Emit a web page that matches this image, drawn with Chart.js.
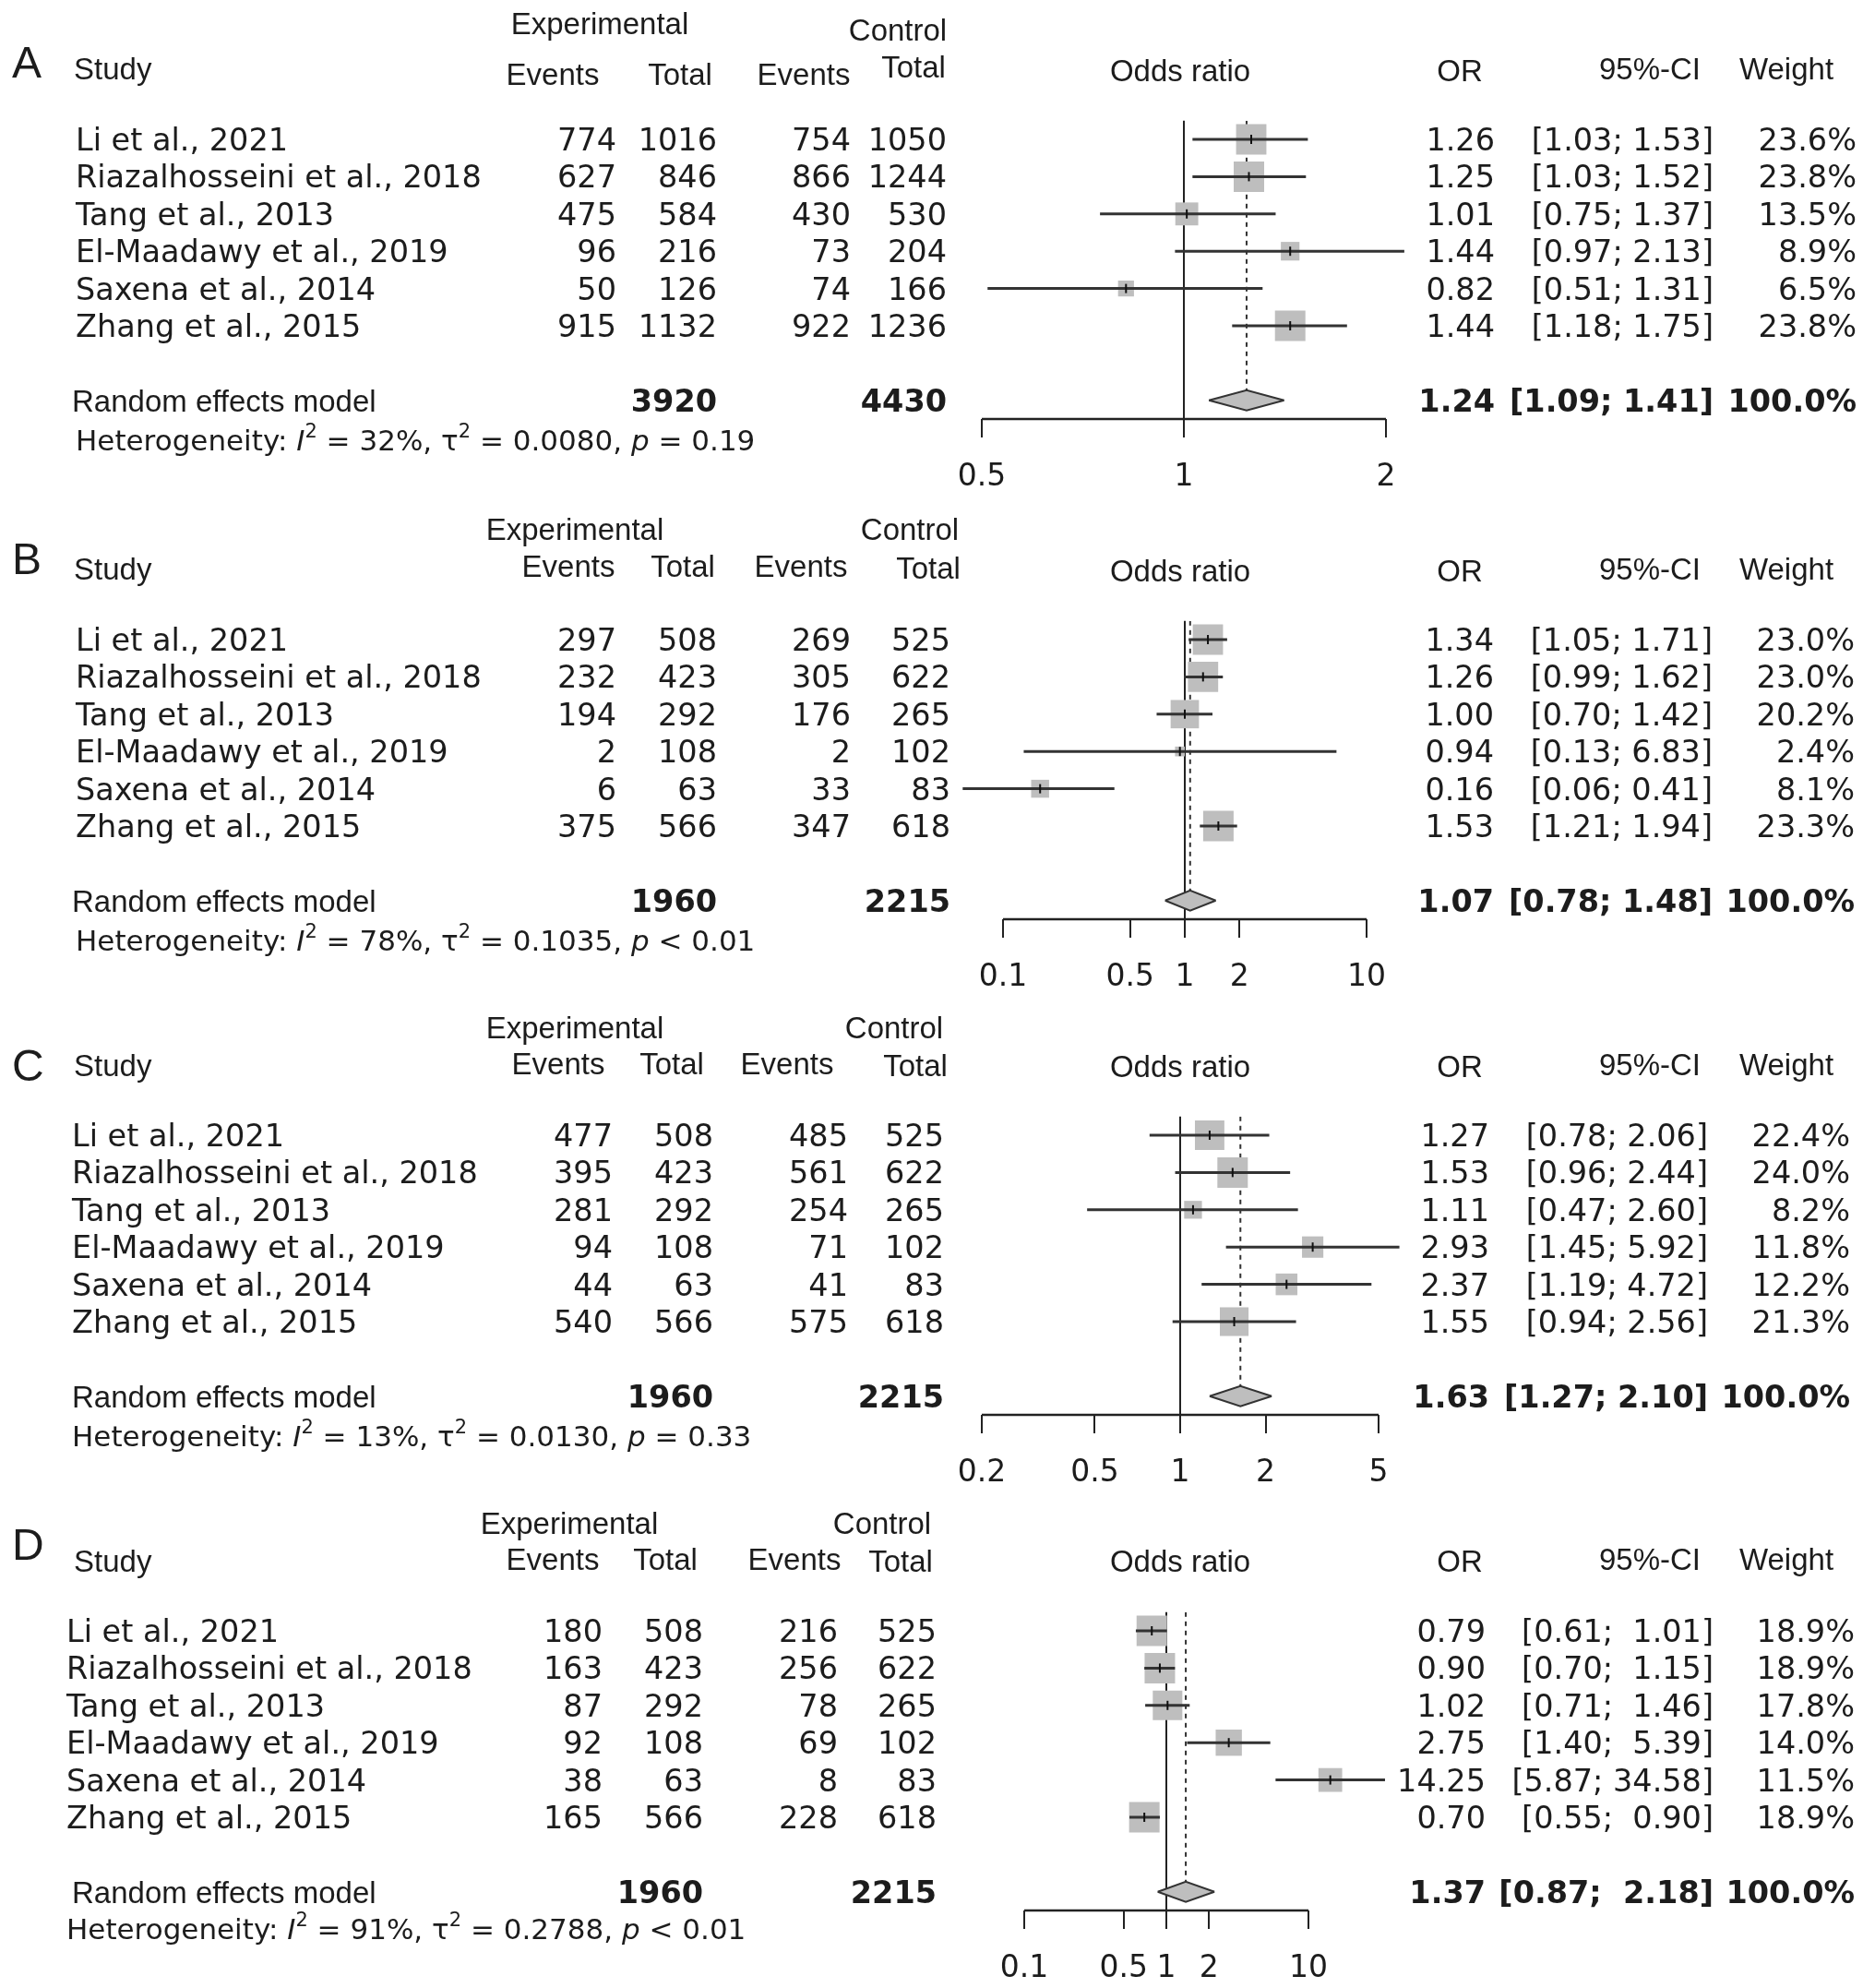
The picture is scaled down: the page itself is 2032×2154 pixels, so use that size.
<!DOCTYPE html>
<html>
<head>
<meta charset="utf-8">
<script src="https://cdn.jsdelivr.net/npm/chart.js@4.4.1/dist/chart.umd.min.js"></script>
<style>
  html, body { margin: 0; padding: 0; background: #fff; }
  canvas { display: block; }
</style>
</head>
<body>
<canvas id="panel0"></canvas>
<canvas id="panel1"></canvas>
<canvas id="panel2"></canvas>
<canvas id="panel3"></canvas>
<script>
// ---- data (panels A, B, C, D) ----
const panelLetters = ['A', 'B', 'C', 'D'];
const studies = ['Li et al., 2021', 'Riazalhosseini et al., 2018', 'Tang et al., 2013',
                 'El-Maadawy et al., 2019', 'Saxena et al., 2014', 'Zhang et al., 2015'];

const expEvents = [[774, 627, 475, 96, 50, 915], [297, 232, 194, 2, 6, 375],
                   [477, 395, 281, 94, 44, 540], [180, 163, 87, 92, 38, 165]];
const expTotal = [[1016, 846, 584, 216, 126, 1132], [508, 423, 292, 108, 63, 566],
                  [508, 423, 292, 108, 63, 566], [508, 423, 292, 108, 63, 566]];
const ctrlEvents = [[754, 866, 430, 73, 74, 922], [269, 305, 176, 2, 33, 347],
                    [485, 561, 254, 71, 41, 575], [216, 256, 78, 69, 8, 228]];
const ctrlTotal = [[1050, 1244, 530, 204, 166, 1236], [525, 622, 265, 102, 83, 618],
                   [525, 622, 265, 102, 83, 618], [525, 622, 265, 102, 83, 618]];

const oddsRatio = [[1.26, 1.25, 1.01, 1.44, 0.82, 1.44], [1.34, 1.26, 1.00, 0.94, 0.16, 1.53],
                   [1.27, 1.53, 1.11, 2.93, 2.37, 1.55], [0.79, 0.90, 1.02, 2.75, 14.25, 0.70]];
const ciLow = [[1.03, 1.03, 0.75, 0.97, 0.51, 1.18], [1.05, 0.99, 0.70, 0.13, 0.06, 1.21],
               [0.78, 0.96, 0.47, 1.45, 1.19, 0.94], [0.61, 0.70, 0.71, 1.40, 5.87, 0.55]];
const ciHigh = [[1.53, 1.52, 1.37, 2.13, 1.31, 1.75], [1.71, 1.62, 1.42, 6.83, 0.41, 1.94],
                [2.06, 2.44, 2.60, 5.92, 4.72, 2.56], [1.01, 1.15, 1.46, 5.39, 34.58, 0.90]];
const weights = [[23.6, 23.8, 13.5, 8.9, 6.5, 23.8], [23.0, 23.0, 20.2, 2.4, 8.1, 23.3],
                 [22.4, 24.0, 8.2, 11.8, 12.2, 21.3], [18.9, 18.9, 17.8, 14.0, 11.5, 18.9]];

const expSum = [3920, 1960, 1960, 1960];
const ctrlSum = [4430, 2215, 2215, 2215];
const sumOR = [1.24, 1.07, 1.63, 1.37];
const sumLow = [1.09, 0.78, 1.27, 0.87];
const sumHigh = [1.41, 1.48, 2.10, 2.18];

const hetI2 = ['32%', '78%', '13%', '91%'];
const hetTau2 = ['0.0080', '0.1035', '0.0130', '0.2788'];
const hetP = ['= 0.19', '< 0.01', '= 0.33', '< 0.01'];

const axisTicks = [[0.5, 1, 2], [0.1, 0.5, 1, 2, 10], [0.2, 0.5, 1, 2, 5], [0.1, 0.5, 1, 2, 10]];

// ---- layout (pixels) ----
const W = 2032;
const panelH = [542, 537, 536, 539];
const plotX = [[1064, 1502], [1087, 1481], [1064, 1494], [1110, 1418]];  // first / last tick
const CHART_L = 1030, CHART_R = 1560;   // drawing area, wider than the axis so far marks show
const rowTop = [151, 151, 151, 152];
const ROW_H = 40.4;
const AXIS_H = 80;
const SUM_ROW = 7;
const DIAMOND_H = 0.27;

const letterY = [67, 63, 75, 58];
const expHdr = [[650, 25], [623, 31], [623, 34], [617, 35]];
const ctrlHdr = [[973, 32], [986, 31], [969, 34], [956, 35]];
const studyY = [74, 74, 75, 76];
const colHdrX = [[599, 737, 871, 990], [616, 740, 868, 1006], [605, 728, 853, 992], [599, 721, 861, 976]];
const colHdrY = [[80, 80, 80, 72], [71, 71, 71, 73], [73, 73, 73, 75], [74, 74, 74, 76]];
const numRight = [[668, 777, 922, 1026], [668, 777, 922, 1030], [664, 773, 919, 1023], [653, 762, 908, 1015]];
const nameX = [82, 82, 78, 72];
const hetY = [477, 477, 477, 475];
const orRight = [1620, 1619, 1614, 1610];
const ciRight = [1857, 1856, 1851, 1857];
const wRight = [2012, 2010, 2005, 2010];

const TXT = '#1c1c1c';
const HEAD = '33px "Liberation Sans", Arial, sans-serif';
const ROWF = '33.5px "DejaVu Sans", sans-serif';
const BOLDF = 'bold 33.5px "DejaVu Sans", sans-serif';
const HETF = '31px "DejaVu Sans", sans-serif';
const SUPF = '21px "DejaVu Sans", sans-serif';

function fmtCI(lo, hi, loW, hiW) {
    return '[' + lo.toFixed(2).padStart(loW) + '; ' + hi.toFixed(2).padStart(hiW) + ']';
}

// draws every text column of a panel around the plot
const forestText = {
    id: 'forestText',
    afterDraw(chart, args, opts) {
        const p = opts.panel;
        const ctx = chart.ctx;
        const ys = chart.scales.y;
        ctx.save();
        ctx.fillStyle = TXT;
        ctx.textBaseline = 'alphabetic';

        function put(str, x, cy, font, size, align) {
            ctx.font = font;
            ctx.textAlign = align;
            ctx.fillText(str, x, cy + size * 0.36);
        }

        // headers
        put(panelLetters[p], 13, letterY[p], '48px "Liberation Sans", Arial, sans-serif', 48, 'left');
        put('Experimental', expHdr[p][0], expHdr[p][1], HEAD, 33, 'center');
        put('Control', ctrlHdr[p][0], ctrlHdr[p][1], HEAD, 33, 'center');
        put('Study', 80, studyY[p], HEAD, 33, 'left');
        ['Events', 'Total', 'Events', 'Total'].forEach((h, k) => {
            put(h, colHdrX[p][k], colHdrY[p][k], HEAD, 33, 'center');
        });
        put('Odds ratio', 1279, 76, HEAD, 33, 'center');
        put('OR', 1582, 76, HEAD, 33, 'center');
        put('95%-CI', 1843, 74, HEAD, 33, 'right');
        put('Weight', 1936, 74, HEAD, 33, 'center');

        // study rows
        const lows = ciLow[p].concat([sumLow[p]]).map(v => v.toFixed(2).length);
        const highs = ciHigh[p].concat([sumHigh[p]]).map(v => v.toFixed(2).length);
        const loW = Math.max(...lows), hiW = Math.max(...highs);

        studies.forEach((name, i) => {
            const cy = ys.getPixelForValue(i);
            put(name, nameX[p], cy, ROWF, 33.5, 'left');
            put(String(expEvents[p][i]), numRight[p][0], cy, ROWF, 33.5, 'right');
            put(String(expTotal[p][i]), numRight[p][1], cy, ROWF, 33.5, 'right');
            put(String(ctrlEvents[p][i]), numRight[p][2], cy, ROWF, 33.5, 'right');
            put(String(ctrlTotal[p][i]), numRight[p][3], cy, ROWF, 33.5, 'right');
            put(oddsRatio[p][i].toFixed(2), orRight[p], cy, ROWF, 33.5, 'right');
            put(fmtCI(ciLow[p][i], ciHigh[p][i], loW, hiW), ciRight[p], cy, ROWF, 33.5, 'right');
            put(weights[p][i].toFixed(1) + '%', wRight[p], cy, ROWF, 33.5, 'right');
        });

        // summary row
        const sy = ys.getPixelForValue(SUM_ROW);
        put('Random effects model', 78, sy, HEAD, 33, 'left');
        put(String(expSum[p]), numRight[p][1], sy, BOLDF, 33.5, 'right');
        put(String(ctrlSum[p]), numRight[p][3], sy, BOLDF, 33.5, 'right');
        put(sumOR[p].toFixed(2), orRight[p], sy, BOLDF, 33.5, 'right');
        put(fmtCI(sumLow[p], sumHigh[p], loW, hiW), ciRight[p], sy, BOLDF, 33.5, 'right');
        put('100.0%', wRight[p], sy, BOLDF, 33.5, 'right');

        // heterogeneity line with italics and superscripts
        const parts = [
            ['Heterogeneity: ', HETF, 0],
            ['I', 'italic ' + HETF, 0],
            ['2', SUPF, -14],
            [' = ' + hetI2[p] + ', ', HETF, 0],
            ['\u03c4', HETF, 0],
            ['2', SUPF, -14],
            [' = ' + hetTau2[p] + ', ', HETF, 0],
            ['p', 'italic ' + HETF, 0],
            [' ' + hetP[p], HETF, 0]
        ];
        let hx = nameX[p];
        const base = hetY[p] + 31 * 0.36;
        ctx.textAlign = 'left';
        parts.forEach(([s, f, dy]) => {
            ctx.font = f;
            ctx.fillText(s, hx, base + dy);
            hx += ctx.measureText(s).width;
        });
        ctx.restore();
    }
};

function buildPanel(p) {
    const canvas = document.getElementById('panel' + p);
    canvas.width = W;
    canvas.height = panelH[p];
    canvas.style.width = W + 'px';
    canvas.style.height = panelH[p] + 'px';

    const n = studies.length;
    const maxW = Math.max(...weights[p]);

    const ciData = [];
    const estData = [];
    const boxData = [];
    const boxRadius = [];
    for (let i = 0; i < n; i++) {
        ciData.push({x: ciLow[p][i], y: i}, {x: ciHigh[p][i], y: i}, {x: NaN, y: NaN});
        estData.push({x: oddsRatio[p][i], y: i});
        boxData.push({x: oddsRatio[p][i], y: i});
        // box area proportional to weight, largest box 33px wide
        boxRadius.push(33 * Math.sqrt(weights[p][i] / maxW) / (2 * Math.SQRT1_2));
    }

    const top = rowTop[p] - 0.5 * ROW_H;
    const bottomAxis = rowTop[p] + (SUM_ROW + 0.5) * ROW_H;
    const ticks = axisTicks[p];
    const t0 = ticks[0], t1 = ticks[ticks.length - 1];

    // extend the log range so the first/last ticks land on their pixel columns
    const perDecade = (plotX[p][1] - plotX[p][0]) / (Math.log10(t1) - Math.log10(t0));
    const xMin = Math.pow(10, Math.log10(t0) - (plotX[p][0] - CHART_L) / perDecade);
    const xMax = Math.pow(10, Math.log10(t1) + (CHART_R - plotX[p][1]) / perDecade);

    new Chart(canvas, {
        type: 'scatter',
        data: {
            datasets: [
                {   // point estimate marks
                    data: estData, order: 0, showLine: false,
                    pointStyle: 'line', pointRotation: 90, pointRadius: 5,
                    pointBorderWidth: 2, pointBorderColor: '#111', clip: false
                },
                {   // confidence intervals
                    data: ciData, order: 1, showLine: true, spanGaps: false,
                    borderColor: '#333', borderWidth: 3, pointRadius: 0, clip: false
                },
                {   // diamond, upper half
                    data: [{x: sumLow[p], y: SUM_ROW}, {x: sumOR[p], y: SUM_ROW - DIAMOND_H}, {x: sumHigh[p], y: SUM_ROW}],
                    order: 2, showLine: true, borderColor: '#333', borderWidth: 2, pointRadius: 0,
                    fill: '+1', backgroundColor: '#bebebe', tension: 0
                },
                {   // diamond, lower half
                    data: [{x: sumLow[p], y: SUM_ROW}, {x: sumOR[p], y: SUM_ROW + DIAMOND_H}, {x: sumHigh[p], y: SUM_ROW}],
                    order: 3, showLine: true, borderColor: '#333', borderWidth: 2, pointRadius: 0,
                    fill: false, tension: 0
                },
                {   // weighted boxes
                    data: boxData, order: 4, showLine: false,
                    pointStyle: 'rect', pointRadius: boxRadius,
                    pointBackgroundColor: '#bebebe', pointBorderWidth: 0, clip: false
                },
                {   // dotted line at pooled estimate
                    data: [{x: sumOR[p], y: -0.5}, {x: sumOR[p], y: SUM_ROW - DIAMOND_H}],
                    order: 5, showLine: true, borderColor: '#333', borderWidth: 2,
                    borderDash: [5, 5], pointRadius: 0
                },
                {   // x axis line between first and last tick
                    data: [{x: t0, y: SUM_ROW + 0.5}, {x: t1, y: SUM_ROW + 0.5}],
                    order: 6, showLine: true, borderColor: '#222', borderWidth: 2.5,
                    pointRadius: 0, clip: false
                }
            ]
        },
        options: {
            responsive: false,
            animation: false,
            devicePixelRatio: 1,
            events: [],
            layout: {
                padding: {
                    left: CHART_L,
                    right: W - CHART_R,
                    top: top,
                    bottom: panelH[p] - bottomAxis - AXIS_H
                }
            },
            plugins: {
                legend: {display: false},
                tooltip: {enabled: false},
                filler: {drawTime: 'beforeDatasetsDraw'},
                forestText: {panel: p}
            },
            scales: {
                x: {
                    type: 'logarithmic',
                    position: 'bottom',
                    min: xMin,
                    max: xMax,
                    afterBuildTicks: s => { s.ticks = ticks.map(v => ({value: v})); },
                    afterFit: s => { s.height = AXIS_H; },
                    ticks: {
                        callback: v => String(v),
                        font: {family: 'DejaVu Sans', size: 33},
                        color: TXT,
                        padding: 24,
                        maxRotation: 0,
                        autoSkip: false
                    },
                    grid: {
                        color: c => (c.tick && c.tick.value === 1) ? '#222' : 'rgba(0,0,0,0)',
                        lineWidth: 2,
                        tickColor: '#222',
                        tickWidth: 2,
                        tickLength: 20
                    },
                    border: {display: false}
                },
                y: {
                    type: 'linear',
                    display: false,
                    reverse: true,
                    min: -0.5,
                    max: SUM_ROW + 0.5
                }
            }
        },
        plugins: [forestText]
    });
}

for (let p = 0; p < 4; p++) buildPanel(p);
</script>
</body>
</html>
